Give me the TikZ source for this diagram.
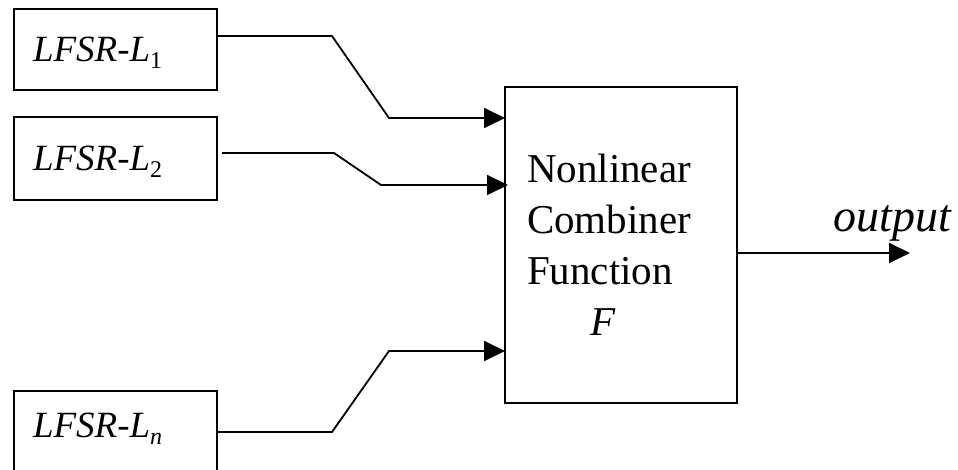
\documentclass[tikz,border=0pt]{standalone}
\usepackage{fontspec}
\setmainfont{Liberation Serif}
\usetikzlibrary{positioning, arrows.meta}
\definecolor{coloredge}{HTML}{000000}

% small upright index after the register name
\newcommand{\regidx}[1]{\raisebox{-7pt}{\fontsize{24}{24}\selectfont\upshape #1}}

\begin{document}
\begin{tikzpicture}[
    % one unit = one pixel, y running downwards
    x=1pt, y=-1pt,
    lfsr/.style={
        rectangle,
        draw=coloredge,
        line width=1.8pt,
        minimum width=203pt,
        minimum height=81pt,
        text width=165pt,
        inner xsep=19pt,
        inner ysep=0pt,
        outer sep=0pt,
        align=left,
        text height=25pt,
        text depth=-8pt,
        font=\fontsize{37}{44}\selectfont\itshape
    },
    combiner/.style={
        rectangle,
        draw=coloredge,
        line width=1.8pt,
        minimum width=232pt,
        minimum height=316pt,
        text width=188pt,
        inner xsep=22pt,
        inner ysep=0pt,
        outer sep=0pt,
        align=left,
        font=\fontsize{41}{51}\selectfont
    },
    arrow/.style={
        -{Triangle[length=21pt, width=20pt]},
        coloredge,
        line width=1.8pt
    }
]
\useasboundingbox (0,0) rectangle (958,470);

% ==============================
% Shift registers
% ==============================
\node[lfsr] (l1) at (115.5,49.5) {LFSR-L\regidx{1}};
\node[lfsr, below=27pt of l1, minimum height=83pt] (l2) {LFSR-L\regidx{2}};
\node[lfsr, below=191pt of l2, text depth=14pt] (ln) {LFSR-L\regidx{\itshape n}};

% ==============================
% Combining function
% ==============================
\node[combiner] (fn) at (621,245) {
    Nonlinear \\
    Combiner \\
    Function \\
    \hspace*{63pt}\textit{F}
};

\coordinate (outend) at (910,253);
\node[anchor=base, font=\fontsize{46}{50}\selectfont\itshape] (outlbl) at (892,232) {output};

% ==============================
% Arrows
% ==============================
\draw[arrow] ([yshift=13.5pt]l1.east) -- ++(115,0) -- ++(57,82) -- ([yshift=127pt]fn.west);
\draw[arrow] ([xshift=5pt, yshift=5.5pt]l2.east) -- ++(112,0) -- ++(47,32) -- ([xshift=3pt, yshift=60pt]fn.west);
\draw[arrow] ([yshift=-0.5pt]ln.east) -- ++(115,0) -- ++(57,-81) -- ([yshift=-106pt]fn.west);

\draw[arrow] (fn.east |- outend) -- (outend);

\end{tikzpicture}
\end{document}
